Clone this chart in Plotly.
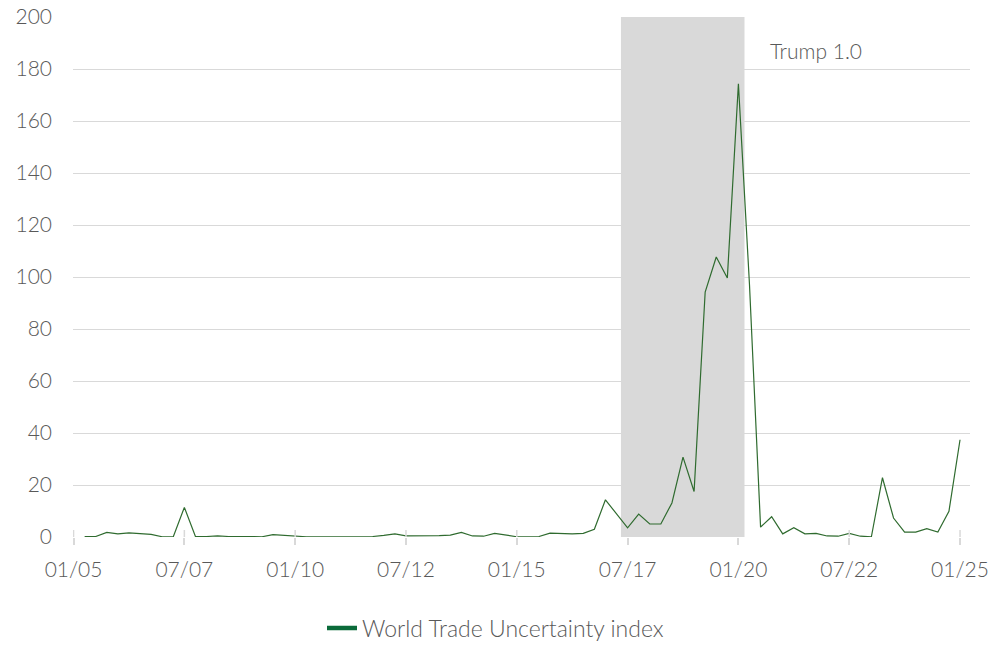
import plotly.graph_objects as go

# Quarter index 0 = Q1 2005 ... 80 = Q1 2025
tick_positions = [0, 10, 20, 30, 40, 50, 60, 70, 80]
tick_labels = ["01/05", "07/07", "01/10", "07/12", "01/15", "07/17", "01/20", "07/22", "01/25"]

quarters = list(range(1, 81))
wtu_index = [
    0.2, 0.2, 1.8, 1.2, 1.6, 1.4, 1.0, 0.1, 0.1, 11.4,
    0.2, 0.2, 0.4, 0.2, 0.1, 0.1, 0.1, 0.9, 0.6, 0.5,
    0.1, 0.1, 0.1, 0.1, 0.1, 0.1, 0.2, 0.6, 1.2, 0.4,
    0.4, 0.4, 0.5, 0.7, 1.8, 0.4, 0.3, 1.4, 0.8, 0.1,
    0.1, 0.2, 1.5, 1.3, 1.2, 1.4, 3.0, 14.3, 9.0, 3.5,
    8.8, 5.0, 5.0, 13.1, 30.7, 17.5, 94.2, 107.7, 99.6, 174.3,
    97.0, 3.8, 7.8, 1.2, 3.6, 1.2, 1.4, 0.4, 0.3, 1.4,
    0.3, 0.1, 22.8, 7.3, 1.9, 1.9, 3.2, 1.9, 9.9, 37.4,
]

shade_start, shade_end = 49.4, 60.55
shade_label = "Trump 1.0"

font_family = "Lato, 'Open Sans', sans-serif"
text_color = "#595959"
grid_color = "#d9d9d9"
fs = 21

fig = go.Figure()
fig.add_shape(type="rect", xref="x", yref="y", x0=shade_start, x1=shade_end,
              y0=0, y1=200, fillcolor="#d9d9d9", line_width=0, layer="below")

fig.add_trace(go.Scatter(x=quarters, y=wtu_index, mode="lines",
                         line=dict(color="#2f6b2f", width=1.2),
                         showlegend=False, cliponaxis=False))
fig.add_trace(go.Scatter(x=[None], y=[None], mode="lines",
                         line=dict(color="#0b6b3a", width=4.5),
                         name="World Trade Uncertainty index"))

# cross ticks on x axis (upper half)
for tp in tick_positions:
    fig.add_shape(type="line", xref="x", yref="y", x0=tp, x1=tp, y0=0, y1=2.7,
                  line=dict(color=grid_color, width=1.5))

fig.add_annotation(x=62.66, y=187.3, xref="x", yref="y", text=shade_label,
                   showarrow=False, xanchor="left", yanchor="middle",
                   font=dict(family=font_family, size=fs, color=text_color, weight=300))

fig.update_layout(
    width=991, height=645,
    margin=dict(l=73, r=21, t=17, b=108),
    paper_bgcolor="white", plot_bgcolor="white",
    font=dict(family=font_family, size=fs, color=text_color, weight=300),
    xaxis=dict(range=[-0.05, 80.9], tickvals=tick_positions, ticktext=tick_labels,
               showgrid=False, zeroline=False, showline=False, automargin=False,
               ticks="outside", ticklen=7, tickwidth=1.5, tickcolor=grid_color,
               ticklabelstandoff=7,
               tickfont=dict(family=font_family, size=fs, color=text_color, weight=300)),
    yaxis=dict(range=[0, 200], dtick=20, showgrid=True, gridcolor=grid_color,
               gridwidth=1.3, zeroline=False, showline=False, ticks="",
               automargin=False, ticklabelstandoff=20,
               tickfont=dict(family=font_family, size=fs, color=text_color, weight=300)),
    legend=dict(orientation="h", xref="container", yref="container",
                x=0.5, xanchor="center", y=1 - 628 / 645, yanchor="middle",
                font=dict(family=font_family, size=23, color=text_color, weight=300)),
)

fig.write_html("out.html")
